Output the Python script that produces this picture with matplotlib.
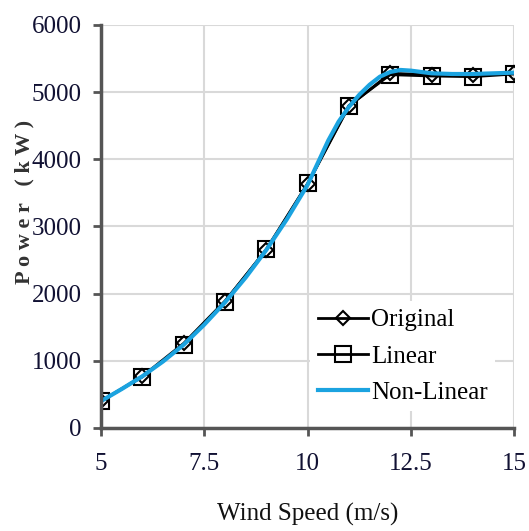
import numpy as np
import matplotlib.pyplot as plt

plt.rcParams['font.family'] = ['Liberation Serif', 'DejaVu Serif']

# puntos medidos
wind = [5, 6, 7, 8, 9, 10, 11, 12, 13, 14, 15]
original = [400, 770, 1260, 1890, 2650, 3630, 4790, 5280, 5260, 5250, 5290]
linear = [400, 760, 1240, 1880, 2660, 3640, 4800, 5260, 5240, 5230, 5270]

# curva no lineal
nl_wind = [5, 5.5, 6, 6.5, 7, 7.5, 8, 8.5, 9, 9.5, 10, 10.25, 10.5, 10.75, 11,
           11.25, 11.5, 11.75, 12, 12.25, 12.5, 12.75, 13, 13.5, 14, 14.5, 15]
nl_power = [400, 580, 770, 990, 1240, 1540, 1870, 2240, 2650, 3110, 3620, 3950,
            4280, 4560, 4780, 4960, 5110, 5230, 5300, 5330, 5320, 5300, 5280,
            5270, 5270, 5280, 5290]

fig = plt.figure(figsize=(5.29, 5.31), dpi=100)
ax = fig.add_axes([0.191, 0.194, 0.781, 0.759])

ax.plot(wind, original, color='black', lw=2, marker='D', ms=7,
        mfc='none', mec='black', mew=1.5, label='Original')
ax.plot(wind, linear, color='black', lw=2, marker='s', ms=12,
        mfc='none', mec='black', mew=1.5, label='Linear')
ax.plot(nl_wind, nl_power, color='#1ba3e0', lw=3, label='Non-Linear')

ax.set_xlim(5, 15)
ax.set_ylim(0, 6000)
ax.set_xticks([5, 7.5, 10, 12.5, 15])
ax.set_xticklabels(['5', '7.5', '10', '12.5', '15'])
ax.set_yticks(np.arange(0, 6001, 1000))

ax.grid(True, color='#d9d9d9', lw=1.5)
ax.set_axisbelow(True)
for s in ['top', 'right']:
    ax.spines[s].set_visible(False)
for s in ['left', 'bottom']:
    ax.spines[s].set_color('#555555')
    ax.spines[s].set_linewidth(2.5)
ax.tick_params(axis='both', labelsize=18, colors='#555555', labelcolor='#111133',
               width=2, length=6)
ax.tick_params(axis='x', pad=12)
ax.tick_params(axis='y', pad=8)

ax.set_xlabel('Wind Speed (m/s)', fontsize=18, labelpad=20, color='#111111')
fig.text(0.047, 0.62, 'P o w e r   ( k W )', fontsize=16, fontweight='bold',
         rotation=90, ha='center', va='center', color='#333333')

leg = ax.legend(loc='lower right', bbox_to_anchor=(0.985, 0.01), fontsize=18,
                frameon=True, handlelength=2.0, handletextpad=0.15,
                labelspacing=0.55, borderpad=0.3)
leg.get_frame().set_edgecolor('none')
leg.get_frame().set_facecolor('white')
leg.get_frame().set_alpha(1)

plt.savefig('out.png', dpi=100)
